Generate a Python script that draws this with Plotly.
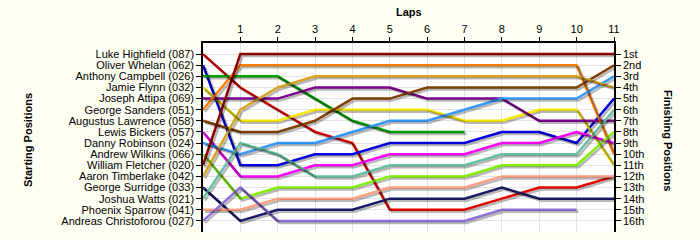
import plotly.graph_objects as go

laps = list(range(0, 12))
lap_ticks = list(range(1, 12))

drivers = [
    "Luke Highfield (087)", "Oliver Whelan (062)", "Anthony Campbell (026)",
    "Jamie Flynn (032)", "Joseph Attipa (069)", "George Sanders (051)",
    "Augustus Lawrence (058)", "Lewis Bickers (057)", "Danny Robinson (024)",
    "Andrew Wilkins (066)", "William Fletcher (020)", "Aaron Timberlake (042)",
    "George Surridge (033)", "Joshua Watts (021)", "Phoenix Sparrow (041)",
    "Andreas Christoforou (027)",
]
finish_labels = ["1st", "2nd", "3rd", "4th", "5th", "6th", "7th", "8th",
                 "9th", "10th", "11th", "12th", "13th", "14th", "15th", "16th"]

pos_highfield = [1, 4, 6, 8, 9, 15, 15, 15, 14, 13, 13, 12]
pos_whelan = [2, 11, 11, 10, 10, 9, 9, 9, 8, 8, 9, 5]
pos_campbell = [3, 3, 3, 5, 7, 8, 8, 8, None, None, None, None]
pos_flynn = [4, 7, 7, 6, 6, 6, 6, 7, 7, 6, 6, 11]
pos_attipa = [5, 5, 5, 4, 4, 4, 5, 5, 5, 7, 7, 7]
pos_sanders = [6, 2, 2, 2, 2, 2, 2, 2, 2, 2, 2, 10]
pos_lawrence = [7, 8, 8, 7, 5, 5, 4, 4, 4, 4, 4, 2]
pos_bickers = [8, 12, 12, 11, 11, 10, 10, 10, 9, 9, 8, 9]
pos_robinson = [9, 10, 9, 9, 8, 7, 7, 6, 5, 5, 5, 3]
pos_wilkins = [10, 14, 13, 13, 13, 12, 12, 12, 11, 11, 11, 8]
pos_fletcher = [11, 1, 1, 1, 1, 1, 1, 1, 1, 1, 1, 1]
pos_timberlake = [12, 6, 4, 3, 3, 3, 3, 3, 3, 3, 3, 4]
pos_surridge = [13, 16, 15, 15, 15, 14, 14, 14, 13, 14, 14, 14]
pos_watts = [14, 9, 10, 12, 12, 11, 11, 11, 10, 10, 10, 6]
pos_sparrow = [15, 15, 14, 14, 14, 13, 13, 13, 12, 12, 12, 12]
pos_christoforou = [16, 13, 16, 16, 16, 16, 16, 16, 15, 15, 15, None]

series = [pos_highfield, pos_whelan, pos_campbell, pos_flynn, pos_attipa,
          pos_sanders, pos_lawrence, pos_bickers, pos_robinson, pos_wilkins,
          pos_fletcher, pos_timberlake, pos_surridge, pos_watts, pos_sparrow,
          pos_christoforou]

colors = ["#E80000", "#0000E0", "#00A000", "#F8E800", "#800090", "#FF8000",
          "#804000", "#FF00FF", "#3399FF", "#80F000", "#900000", "#DAA520",
          "#1A1A6A", "#66C0A0", "#FFA080", "#9070D8"]

# layout geometry
W, H = 700, 240
ml, mr, mt, mb = 203, 86, 43, 8
pw = W - ml - mr
ph = H - mt - mb
xr = [0, 11]
yr = [17, 0]
sh = 2  # shadow offset in px
dx = (xr[1] - xr[0]) / pw * sh
dy = (yr[0] - yr[1]) / ph * sh


def px_x(px):
    return (px - ml) / pw


def px_y(py):
    return (H - mb - py) / ph


fig = go.Figure()

# shadows
for s in series:
    fig.add_trace(go.Scatter(x=laps, y=s, mode="lines", xaxis="x3", yaxis="y3",
                             line=dict(color="rgba(0,0,0,0.28)", width=2.5),
                             hoverinfo="skip", showlegend=False,
                             connectgaps=False))
# lines
for name, s, c in zip(drivers, series, colors):
    fig.add_trace(go.Scatter(x=laps, y=s, mode="lines", name=name,
                             line=dict(color=c, width=2.5),
                             showlegend=False, connectgaps=False))
# invisible trace for right axis
fig.add_trace(go.Scatter(x=[0], y=[1], yaxis="y2", mode="markers",
                         marker=dict(opacity=0), showlegend=False,
                         hoverinfo="skip"))

font = dict(family="Liberation Sans, Arial, sans-serif", size=11, color="black")

fig.update_layout(
    width=W, height=H,
    margin=dict(l=ml, r=mr, t=mt, b=mb),
    paper_bgcolor="#FFFEF3",
    plot_bgcolor="#FFFFFF",
    font=font,
    xaxis=dict(range=xr, side="top", tickvals=lap_ticks, ticks="outside",
               ticklen=4, tickcolor="black", showline=True, linecolor="black",
               linewidth=1.5, mirror=False, showgrid=True,
               gridcolor="#E4E4E4", gridwidth=1, zeroline=False,
               tickfont=font, fixedrange=True),
    yaxis=dict(range=yr, tickvals=list(range(1, 17)), ticktext=drivers,
               ticks="outside", ticklen=5, tickcolor="black", showline=True,
               linecolor="black", linewidth=1.5, showgrid=True,
               gridcolor="#E4E4E4", gridwidth=1, zeroline=False,
               tickfont=font, fixedrange=True),
    yaxis2=dict(range=yr, overlaying="y", side="right",
                tickvals=list(range(1, 17)), ticktext=finish_labels,
                ticks="outside", ticklen=5, tickcolor="black", showline=True,
                linecolor="black", linewidth=1.5, showgrid=False,
                zeroline=False, tickfont=font, fixedrange=True),
    xaxis3=dict(range=[xr[0] - dx, xr[1] - dx], overlaying="x", visible=False,
                fixedrange=True),
    yaxis3=dict(range=[yr[0] - dy, yr[1] - dy], overlaying="y", visible=False,
                fixedrange=True),
    annotations=[
        dict(text="<b>Laps</b>", x=0.5, y=px_y(12),
             xref="paper", yref="paper", showarrow=False,
             xanchor="center", yanchor="middle", font=font),
        dict(text="<b>Starting Positions</b>", x=px_x(28), y=px_y(140),
             xref="paper", yref="paper", showarrow=False, textangle=-90,
             xanchor="center", yanchor="middle", font=font),
        dict(text="<b>Finishing Positions</b>", x=px_x(668), y=px_y(140),
             xref="paper", yref="paper", showarrow=False, textangle=90,
             xanchor="center", yanchor="middle", font=font),
    ],
)

fig.write_html("out.html")
